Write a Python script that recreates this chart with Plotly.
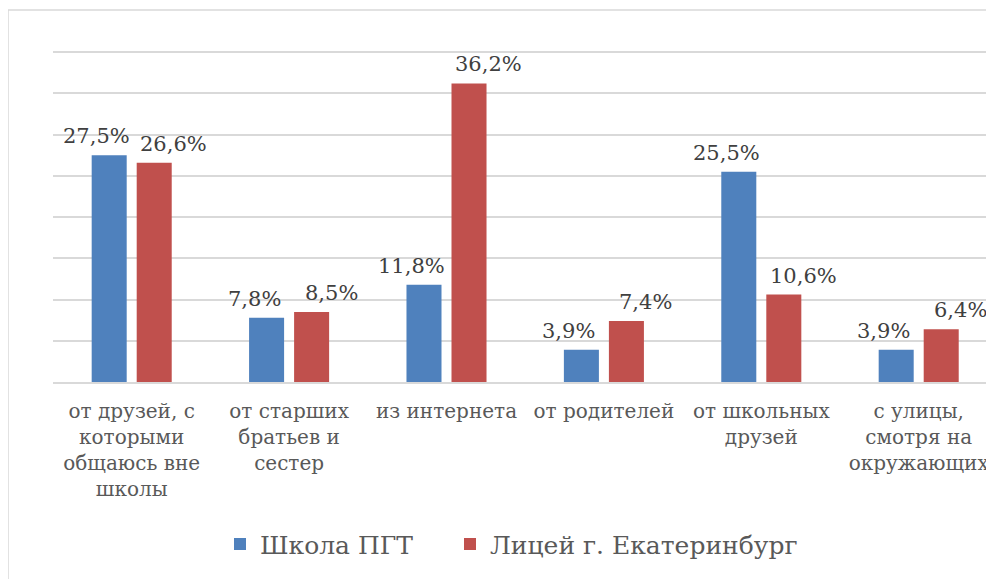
"""
Grouped bar chart: where pupils learn about it (school vs lyceum)
"""
import plotly.graph_objects as go

categories = [
    "от друзей, с<br>которыми<br>общаюсь вне<br>школы",
    "от старших<br>братьев и<br>сестер",
    "из интернета",
    "от родителей",
    "от школьных<br>друзей",
    "с улицы,<br>смотря на<br>окружающих",
]
school_values = [27.5, 7.8, 11.8, 3.9, 25.5, 3.9]
lyceum_values = [26.6, 8.5, 36.2, 7.4, 10.6, 6.4]
series_names = ["Школа ПГТ", "Лицей г. Екатеринбург"]
y_ticks = [0, 5, 10, 15, 20, 25, 30, 35, 40]

BLUE = "#4f81bd"
RED = "#c0504d"
TEXT = "#595959"
GRID = "#d9d9d9"
FONT = "DejaVu Serif"

# the page body adds an 8px offset, so the figure is laid out 8px up/left
W, H = 994, 579
M_L, M_R, M_T, M_B = 45, 0, 40, 205
CAT_W = 157.4  # pixel width of one category slot

plot_w = W - M_L - M_R
plot_h = H - M_T - M_B


def fmt(v):
    return f"{v:.1f}".replace(".", ",") + "%"


def px_to_paper_x(px):
    # screen pixel -> paper fraction
    return (px - 8 - M_L) / plot_w


fig = go.Figure()
for name, vals, color, leg in [(series_names[0], school_values, BLUE, "legend"),
                               (series_names[1], lyceum_values, RED, "legend2")]:
    fig.add_trace(go.Bar(
        name=name,
        x=categories,
        y=vals,
        marker=dict(color=color, line=dict(width=0)),
        legend=leg,
        hoverinfo="skip",
    ))

# data labels, nudged sideways like the original
for vals, shift in [(school_values, -35), (lyceum_values, 42)]:
    for cat, v in zip(categories, vals):
        fig.add_annotation(
            x=cat, y=v, text=fmt(v), showarrow=False,
            xanchor="center", yanchor="bottom", xshift=shift, yshift=5,
            font=dict(family=FONT, size=21, color="#404040"),
        )

x_end = -0.5 + plot_w / CAT_W
y_top = 40.5  # a bit above 40 so the top gridline is drawn

# outer chart frame
fig.add_shape(
    type="rect", xref="paper", yref="paper",
    x0=(0 - M_L) / plot_w, x1=(W + 20 - M_L) / plot_w,
    y0=-(H + 20 - M_T - plot_h) / plot_h, y1=(H - 2 - M_B) / plot_h,
    line=dict(color=GRID, width=1.5), fillcolor="rgba(0,0,0,0)", layer="below",
)

legend_style = dict(
    orientation="h", xanchor="left", y=-0.486, yanchor="middle",
    font=dict(family=FONT, size=25, color=TEXT), itemsizing="constant",
    bgcolor="rgba(0,0,0,0)",
)

fig.update_layout(
    width=W, height=H,
    margin=dict(l=M_L, r=M_R, t=M_T, b=M_B, autoexpand=False),
    paper_bgcolor="white", plot_bgcolor="white",
    barmode="group", bargap=0.428, bargroupgap=0.222,
    font=dict(family=FONT, color=TEXT),
    showlegend=True,
    legend=dict(x=px_to_paper_x(220), **legend_style),
    legend2=dict(x=px_to_paper_x(450), **legend_style),
    xaxis=dict(
        range=[-0.5, x_end], showgrid=False, showline=True, automargin=False,
        linecolor=GRID, linewidth=1.5, ticks="", ticklabelstandoff=10,
        tickfont=dict(family=FONT, size=20, color=TEXT),
    ),
    yaxis=dict(
        range=[0, y_top], tickvals=y_ticks, showticklabels=False, automargin=False,
        showgrid=True, gridcolor=GRID, gridwidth=1.5, zeroline=False,
        showline=False,
    ),
)

fig.write_html("out.html")
